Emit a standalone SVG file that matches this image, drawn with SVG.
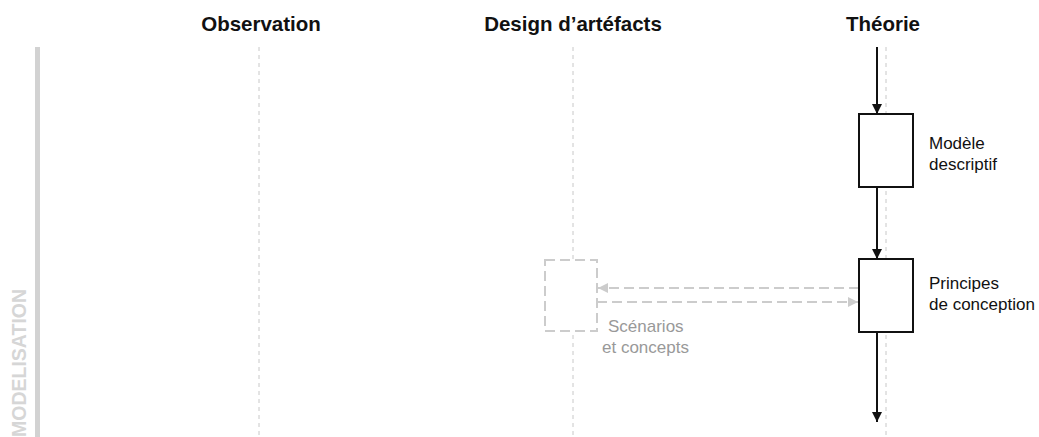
<svg xmlns="http://www.w3.org/2000/svg" width="1039" height="437" viewBox="0 0 1039 437">
<defs>
<style>
.hdr{font-family:"Liberation Sans",Arial,sans-serif;font-weight:bold;font-size:20.5px;fill:#111;text-anchor:middle}
.lbl{font-family:"Liberation Sans",Arial,sans-serif;font-size:17px;fill:#111}
.glbl{font-family:"Liberation Sans",Arial,sans-serif;font-size:17px;fill:#999}
.lane{stroke:#c8c8c8;stroke-width:1;stroke-dasharray:4,4;fill:none}
.box{fill:#fff;stroke:#111;stroke-width:2}
.gbox{fill:#fff;stroke:#cccccc;stroke-width:2;stroke-dasharray:10,5}
.arr{stroke:#111;stroke-width:2;fill:none;marker-end:url(#ah)}
.garr{stroke:#cccccc;stroke-width:2;fill:none;stroke-dasharray:10,5;marker-end:url(#gah)}
</style>
<marker id="ah" viewBox="0 0 10 10" refX="10" refY="5" markerWidth="5" markerHeight="5" orient="auto" markerUnits="strokeWidth"><path d="M0,0 L10,5 L0,10 Z" fill="#111"/></marker>
<marker id="gah" viewBox="0 0 10 10" refX="10" refY="5" markerWidth="5" markerHeight="5" orient="auto" markerUnits="strokeWidth"><path d="M0,0 L10,5 L0,10 Z" fill="#cccccc"/></marker>
</defs>
<rect width="1039" height="437" fill="#fff"/>
<g id="section">
<rect x="35" y="47" width="5" height="390" fill="#d2d2d2"/>
<text transform="translate(26,437) rotate(-90)" font-family="'Liberation Sans',Arial,sans-serif" font-weight="bold" font-size="19.5" fill="#d6d6d6">MODELISATION</text>
</g>
<g id="lanes">
<line class="lane" x1="259" y1="47" x2="259" y2="437"/>
<line class="lane" x1="573" y1="47" x2="573" y2="437"/>
<line class="lane" x1="886" y1="47" x2="886" y2="437"/>
<text class="hdr" x="261" y="31">Observation</text>
<text class="hdr" x="573" y="31">Design d’artéfacts</text>
<text class="hdr" x="883" y="31">Théorie</text>
</g>
<g id="connectors">
<line class="arr" x1="877" y1="47" x2="877" y2="114"/>
<line class="arr" x1="877" y1="187" x2="877" y2="259"/>
<line class="arr" x1="877" y1="332" x2="877" y2="422"/>
<line class="garr" x1="859" y1="288" x2="598" y2="288"/>
<line class="garr" x1="597" y1="302" x2="858" y2="302"/>
</g>
<g id="modele">
<rect class="box" x="859" y="114" width="54" height="73"/>
<text class="lbl" x="929" y="149">Modèle</text>
<text class="lbl" x="929" y="170">descriptif</text>
</g>
<g id="principes">
<rect class="box" x="859" y="259" width="54" height="73"/>
<text class="lbl" x="929" y="289">Principes</text>
<text class="lbl" x="929" y="310">de conception</text>
</g>
<g id="scenarios">
<rect class="gbox" x="545" y="260" width="52" height="71"/>
<text class="glbl" x="608" y="332">Scénarios</text>
<text class="glbl" x="602" y="353">et concepts</text>
</g>
</svg>
